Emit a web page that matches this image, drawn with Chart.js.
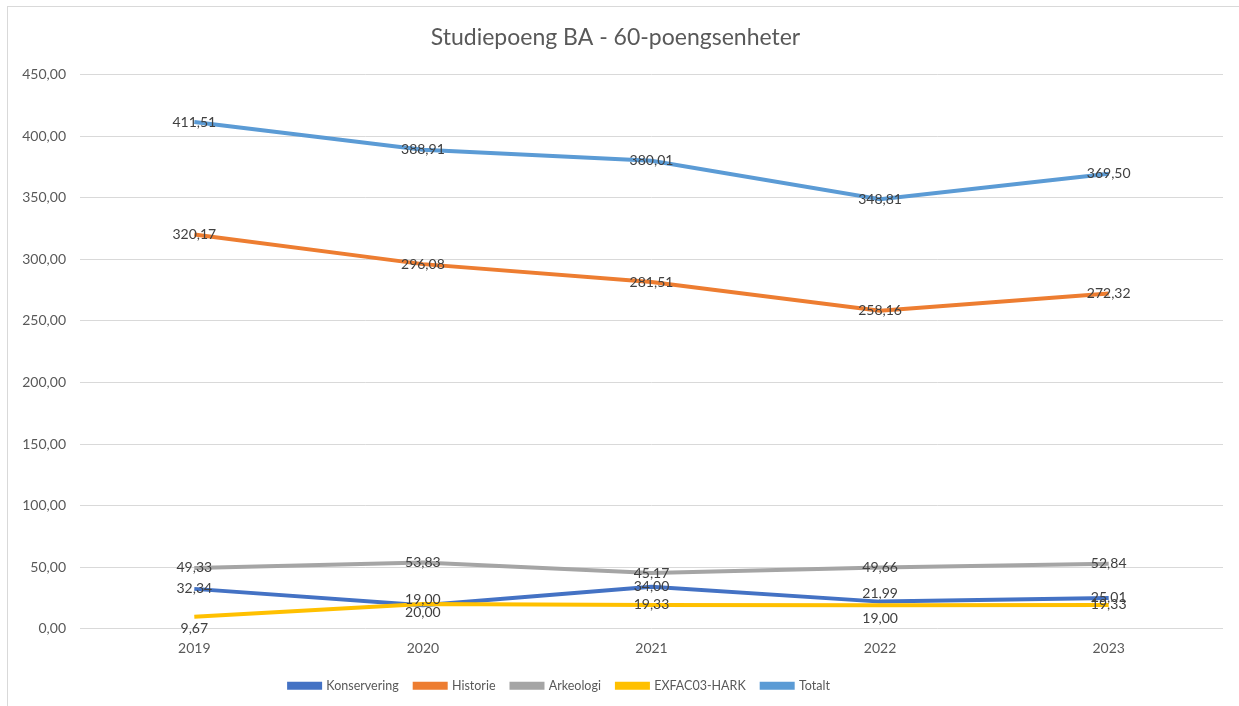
<!DOCTYPE html>
<html>
<head>
<meta charset="utf-8">
<script src="https://cdn.jsdelivr.net/npm/chart.js@4/dist/chart.umd.min.js"></script>
<style>
html,body{margin:0;padding:0;background:#fff;overflow:hidden;}
#wrap{position:absolute;left:0;top:0;width:1239px;height:706px;}
</style>
</head>
<body>
<div id="wrap"><canvas id="c" width="1239" height="706"></canvas></div>
<script>
const years = ['2019', '2020', '2021', '2022', '2023'];
const seriesNames = ['Konservering', 'Historie', 'Arkeologi', 'EXFAC03-HARK', 'Totalt'];
const konservering = [32.34, 19.00, 34.00, 21.99, 25.01];
const historie = [320.17, 296.08, 281.51, 258.16, 272.32];
const arkeologi = [49.33, 53.83, 45.17, 49.66, 52.84];
const exfac = [9.67, 20.00, 19.33, 19.00, 19.33];
const totalt = [411.51, 388.91, 380.01, 348.81, 369.50];
const yTicks = [0, 50, 100, 150, 200, 250, 300, 350, 400, 450];

const colors = ['#4472C4', '#ED7D31', '#A5A5A5', '#FFC000', '#5B9BD5'];
// vertical nudges (px) of data labels, as placed in the original
const labelNudge = [
  [0, -6, 0, -8, 0],
  [0, 0, 0, 0, 0],
  [0, 0, 0, 0, 0],
  [12, 8, 0, 13, 0],
  [0, 0, 0, 0, 0]
];

const fmt = v => v.toFixed(2).replace('.', ',');
const FONT = 'Lato, "Liberation Sans", sans-serif';

const values = [konservering, historie, arkeologi, exfac, totalt];
const datasets = values.map((d, i) => ({
  label: seriesNames[i],
  data: d,
  borderColor: colors[i],
  backgroundColor: colors[i],
  borderWidth: 4,
  pointRadius: 0,
  pointHoverRadius: 0,
  tension: 0,
  order: values.length - i
}));

const framePlugin = {
  id: 'frame',
  beforeDraw(chart) {
    const ctx = chart.ctx;
    ctx.save();
    ctx.fillStyle = '#fff';
    ctx.fillRect(0, 0, chart.width, chart.height);
    ctx.strokeStyle = '#D9D9D9';
    ctx.lineWidth = 1;
    ctx.strokeRect(7.5, 6.5, chart.width + 20, chart.height + 20);
    ctx.restore();
  }
};

const labelPlugin = {
  id: 'valueLabels',
  afterDatasetsDraw(chart) {
    const ctx = chart.ctx;
    ctx.save();
    ctx.font = '14px ' + FONT;
    ctx.fillStyle = '#404040';
    ctx.textAlign = 'center';
    ctx.textBaseline = 'middle';
    chart.data.datasets.forEach((ds, i) => {
      const meta = chart.getDatasetMeta(i);
      meta.data.forEach((pt, j) => {
        ctx.fillText(fmt(ds.data[j]), pt.x, pt.y + labelNudge[i][j]);
      });
    });
    ctx.restore();
  }
};

const legendShift = {
  id: 'legendShift',
  afterLayout(chart) {
    const lg = chart.legend;
    if (lg) { lg.left -= 56; lg.right -= 56; }
  }
};

new Chart(document.getElementById('c'), {
  type: 'line',
  data: { labels: years, datasets },
  plugins: [framePlugin, labelPlugin, legendShift],
  options: {
    responsive: false,
    animation: false,
    events: [],
    layout: { padding: { left: 8, right: 16, top: 0, bottom: 4 } },
    plugins: {
      title: {
        display: true,
        text: 'Studiepoeng BA - 60-poengsenheter',
        color: '#595959',
        font: { family: FONT, size: 23, weight: 'normal' },
        padding: { top: 24, bottom: 23 }
      },
      legend: {
        position: 'bottom',
        labels: {
          color: '#595959',
          font: { family: FONT, size: 12.5 },
          boxWidth: 31,
          boxHeight: 4,
          padding: 16,
          sort: (a, b) => a.datasetIndex - b.datasetIndex
        }
      },
      tooltip: { enabled: false }
    },
    scales: {
      x: {
        offset: true,
        afterFit: s => { s.height -= 4; },
        grid: { display: false, drawTicks: false },
        border: { display: false },
        ticks: { color: '#595959', font: { family: FONT, size: 14 }, padding: 11 }
      },
      y: {
        min: 0,
        max: 450,
        afterBuildTicks: s => { s.ticks = yTicks.map(v => ({ value: v })); },
        afterFit: s => { s.width = 72; },
        grid: { color: '#D9D9D9', lineWidth: 1, drawTicks: false },
        border: { display: false },
        ticks: { color: '#595959', font: { family: FONT, size: 14 }, padding: 14, callback: v => fmt(v) }
      }
    }
  }
});
</script>
</body>
</html>
